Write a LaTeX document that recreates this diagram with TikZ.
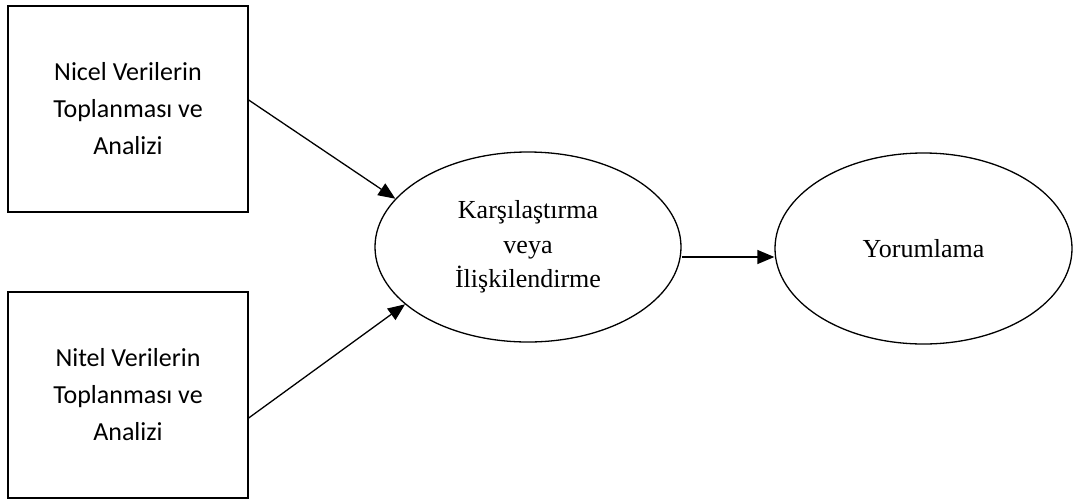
\documentclass[tikz,border=0pt]{standalone}
\usepackage{fontspec}
\setmainfont{Liberation Serif}
\newfontfamily\calib{Carlito}
\usetikzlibrary{shapes.geometric,arrows.meta}
\begin{document}
\begin{tikzpicture}[x=1pt,y=-1pt,
  boxnode/.style={draw,line width=1.3pt,rectangle,minimum width=240pt,minimum height=206pt,inner sep=0pt,align=center,font=\calib\fontsize{26}{37}\selectfont},
  ellnode/.style={draw,line width=1.3pt,ellipse,inner sep=0pt,align=center,font=\fontsize{26}{34.5}\selectfont},
  arr/.style={line width=1.3pt,-{Triangle[length=17pt,width=14pt]}}]
\useasboundingbox (0,0) rectangle (1074,499);
\node[boxnode] (b1) at (128,109) {Nicel Verilerin\\Toplanması ve\\Analizi};
\node[boxnode] (b2) at (128,395) {Nitel Verilerin\\Toplanması ve\\Analizi};
\node[ellnode,minimum width=306pt,minimum height=190pt] (e1) at (528,247) {Karşılaştırma\\veya\\İlişkilendirme};
\node[ellnode,minimum width=297pt,minimum height=191pt] (e2) at (923.5,248.5) {Yorumlama};
\draw[arr] ([yshift=9pt]b1.east) -- (e1.160);
\draw[arr] ([yshift=-23pt]b2.east) -- (e1.205);
\draw[arr] ([yshift=-10pt]e1.east) -- ([yshift=-10pt]e1.east -| e2.west);
\end{tikzpicture}
\end{document}
